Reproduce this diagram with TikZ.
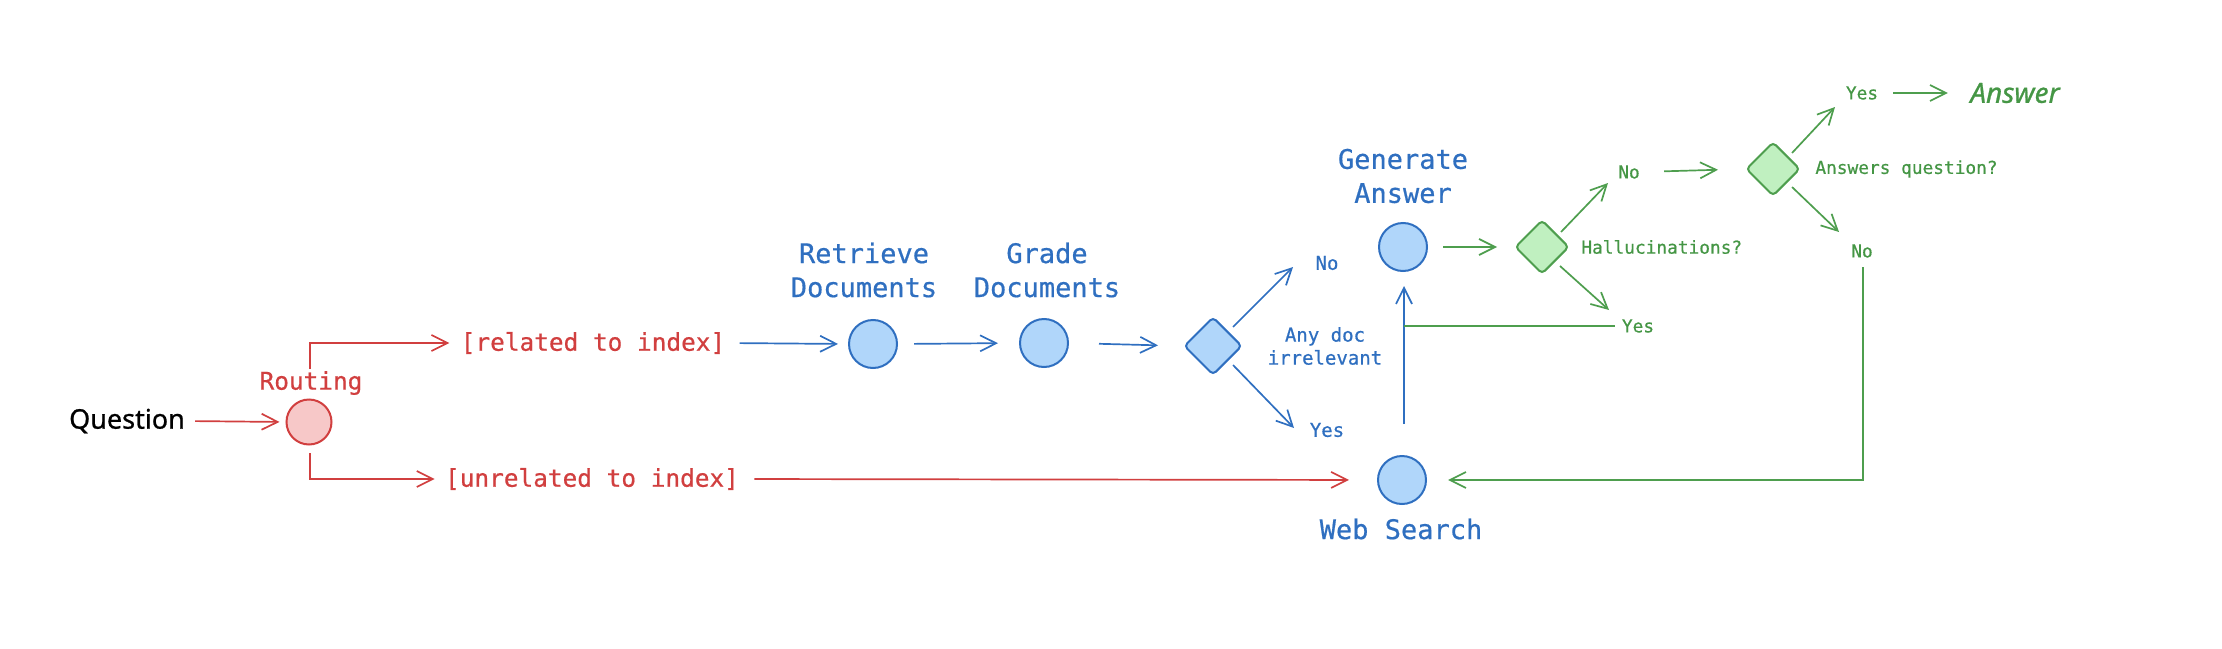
\documentclass[tikz,border=0pt]{standalone}
\usepackage{fontspec}
\setmonofont[FakeBold=0.6]{DejaVu Sans Mono}
\newfontfamily\handfont[FakeBold=0.8]{Noto Sans}
\usetikzlibrary{arrows.meta,shapes.geometric,calc}
\definecolor{rd}{HTML}{D13F3F}
\definecolor{rdfill}{HTML}{F7C8C8}
\definecolor{bl}{HTML}{2F6FC0}
\definecolor{blfill}{HTML}{B0D6FA}
\definecolor{gn}{HTML}{4E9E4E}
\definecolor{gnfill}{HTML}{C0F0C0}
\definecolor{gntext}{HTML}{459645}
\tikzset{
  barb/.style={-{Straight Barb[length=8pt,width=8pt,line width=0.85pt]}},
  conn/.style={line width=0.85pt},
  redc/.style={conn,draw=rd},
  bluec/.style={conn,draw=bl},
  greenc/.style={conn,draw=gn},
  rednode/.style={circle,draw=rd,fill=rdfill,line width=1pt,minimum size=22.5pt,inner sep=0pt},
  bluenode/.style={circle,draw=bl,fill=blfill,line width=1pt,minimum size=24pt,inner sep=0pt},
  bluedia/.style={diamond,draw=bl,fill=blfill,line width=1pt,minimum width=29pt,minimum height=29pt,inner sep=0pt,rounded corners=2pt},
  greendia/.style={diamond,draw=gn,fill=gnfill,line width=1pt,minimum width=27pt,minimum height=27pt,inner sep=0pt,rounded corners=2pt},
  redlbl/.style={text=rd,font=\ttfamily\fontsize{12.2}{14}\selectfont,inner sep=0pt},
  bluelbl/.style={text=bl,font=\ttfamily\fontsize{13.5}{17}\selectfont,inner sep=0pt,align=center},
  bluesmall/.style={text=bl,font=\ttfamily\fontsize{9.5}{11.5}\selectfont,inner sep=0pt,align=center},
  greensmall/.style={text=gntext,font=\ttfamily\fontsize{8.9}{11}\selectfont,inner sep=0pt},
}
\begin{document}
\begin{tikzpicture}[x=0.5pt,y=-0.5pt]
\useasboundingbox (0,0) rectangle (2222,648);

% nodes
\node[font=\handfont\fontsize{13.5}{16}\selectfont,inner sep=0pt] (q) at (127,421) {Question};
\node[rednode] (R) at (309,422) {};
\node[redlbl] (routing) at (311,383) {Routing};
\node[redlbl] (rel) at (593,343) {[related to index]};
\node[redlbl] (unrel) at (592,479) {[unrelated to index]};

\node[bluenode] (ret) at (873,344) {};
\node[bluelbl] (retl) at (864,270) {Retrieve\\Documents};
\node[bluenode] (grd) at (1044,343) {};
\node[bluelbl] (grdl) at (1047,270) {Grade\\Documents};
\node[bluedia] (d1) at (1213,346) {};
\node[bluesmall] (no1) at (1327,263) {No};
\node[bluesmall] (yes1) at (1327,430) {Yes};
\node[bluesmall] (anydoc) at (1325,346) {Any doc\\irrelevant};

\node[bluenode] (gen) at (1403,247) {};
\node[bluelbl] (genl) at (1403,176) {Generate\\Answer};
\node[bluenode] (ws) at (1402,480) {};
\node[bluelbl] (wsl) at (1401,529) {Web Search};

\node[greendia] (h) at (1542,247) {};
\node[greensmall,anchor=west] (hl) at (1581,247) {Hallucinations?};
\node[greensmall] (no2) at (1629,172) {No};
\node[greensmall] (yes2) at (1638,326) {Yes};
\node[greendia] (a) at (1773,169) {};
\node[greensmall,anchor=west] (al) at (1815,169) {Answers question?};
\node[greensmall] (yes3) at (1862,93) {Yes};
\node[greensmall] (no3) at (1862,251) {No};
\node[text=gntext,font=\handfont\itshape\fontsize{14}{16}\selectfont,inner sep=0pt] (ans) at (2015,93) {Answer};

% coordinates for free ends
\coordinate (ru) at (310,369);
\coordinate (rd0) at (310,453);
\coordinate (d1a) at (1233,327);
\coordinate (d1b) at (1293,267);
\coordinate (d1c) at (1233,365);
\coordinate (d1d) at (1294,428);
\coordinate (wsup) at (1404,424);
\coordinate (genlo) at (1404,286);
\coordinate (join) at (1404,328);
\coordinate (ha) at (1561,232);
\coordinate (hb) at (1608,183);
\coordinate (hc) at (1560,266);
\coordinate (hd) at (1609,310);
\coordinate (aa) at (1792,153);
\coordinate (ab) at (1835,107);
\coordinate (ac) at (1792,187);
\coordinate (ad) at (1839,232);
\coordinate (n3) at (1863,267);

% red connectors
\draw[redc,barb,shorten <=5pt,shorten >=3pt] (q.east) -- (R.west);
\draw[redc,barb,shorten >=5.5pt] (ru) |- (rel.west);
\draw[redc,barb,shorten >=5pt] (rd0) |- (unrel.west);
\draw[redc,barb,shorten <=7.5pt,shorten >=14pt] (unrel.east) -- (ws.west);

% blue connectors
\draw[bluec,barb,shorten <=7pt,shorten >=5pt] (rel.east) -- (ret.west);
\draw[bluec,barb,shorten <=8pt,shorten >=10.5pt] (ret.east) -- (grd.west);
\draw[bluec,barb,shorten <=15pt,shorten >=12.5pt] (grd.east) -- (d1.west);
\draw[bluec,barb] (d1a) -- (d1b);
\draw[bluec,barb] (d1c) -- (d1d);
\draw[bluec,barb] (wsup) -- (genlo);

% green connectors
\draw[greenc,shorten <=3.5pt] (yes2.west) -- (yes2.west -| join);
\draw[greenc,barb,shorten <=7.5pt,shorten >=8.5pt] (gen.east) -- (h.west);
\draw[greenc,barb] (ha) -- (hb);
\draw[greenc,barb] (hc) -- (hd);
\draw[greenc,barb,shorten <=12pt,shorten >=13.5pt] (no2.east) -- (a.west);
\draw[greenc,barb] (aa) -- (ab);
\draw[greenc,barb] (ac) -- (ad);
\draw[greenc,barb,shorten <=7.5pt,shorten >=11pt] (yes3.east) -- (ans.west);
\draw[greenc,barb,shorten >=10.5pt] (n3) |- (ws.east);
\end{tikzpicture}
\end{document}
